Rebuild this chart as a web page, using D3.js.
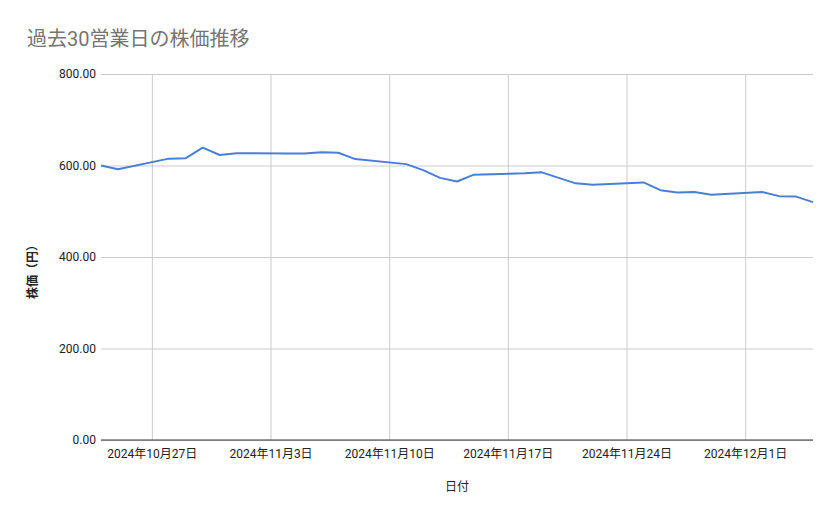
<!DOCTYPE html>
<html><head><meta charset="utf-8">
<script src="https://cdn.jsdelivr.net/npm/d3@7"></script>
<style>
html,body{margin:0;padding:0;background:#fff;}
text{font-family:Roboto,"Noto Sans CJK JP",sans-serif;}
</style></head>
<body><svg id="c" width="839" height="519"></svg>
<script>
const dates = ["2024-10-24","2024-10-25","2024-10-28","2024-10-29","2024-10-30","2024-10-31","2024-11-01",
"2024-11-04","2024-11-05","2024-11-06","2024-11-07","2024-11-08",
"2024-11-11","2024-11-12","2024-11-13","2024-11-14","2024-11-15",
"2024-11-18","2024-11-19","2024-11-20","2024-11-21","2024-11-22",
"2024-11-25","2024-11-26","2024-11-27","2024-11-28","2024-11-29",
"2024-12-02","2024-12-03","2024-12-04","2024-12-05"];
const prices = [600,592,615,616,639,623,627,
626,626,629,628,614,
603,590,573,565,580,
583,585,573,561,558,
563,546,541,542,536,
542,533,532,520];
const yTicks = [0,200,400,600,800];
const xTicks = ["2024-10-27","2024-11-03","2024-11-10","2024-11-17","2024-11-24","2024-12-01"];
const xDomain = ["2024-10-24","2024-12-05"];
const title = "過去30営業日の株価推移";
const xTitle = "日付";
const yTitle = "株価（円）";

const svg = d3.select("#c");
const L=101, R=813, T=74, B=440;
const p = d3.utcParse("%Y-%m-%d");
const x = d3.scaleUtc().domain(xDomain.map(p)).range([L,R]);
const y = d3.scaleLinear().domain([0,800]).range([B,T]);

svg.append("text").attr("x",27).attr("y",46).attr("fill","#757575")
  .style("font-size","20px").text(title);

// horizontal grid
const yAxis = d3.axisLeft(y).tickValues(yTicks).tickSize(-(R-L)).tickPadding(5)
  .tickFormat(d=>d3.format(".2f")(d));
const gy = svg.append("g").attr("transform",`translate(${L},0)`).call(yAxis);
gy.select(".domain").remove();
gy.selectAll(".tick line").attr("stroke","#cccccc");
gy.selectAll(".tick text").attr("fill","#222").style("font-size","12px");

// vertical grid
const xAxis = d3.axisBottom(x).tickValues(xTicks.map(p)).tickSize(-(B-T)).tickPadding(9)
  .tickFormat(d=>`${d.getUTCFullYear()}年${d.getUTCMonth()+1}月${d.getUTCDate()}日`);
const gx = svg.append("g").attr("transform",`translate(0,${B})`).call(xAxis);
gx.select(".domain").remove();
gx.selectAll(".tick line").attr("stroke","#cccccc");
gx.selectAll(".tick text").attr("fill","#222").style("font-size","12px");

// baseline
svg.append("line").attr("x1",L).attr("x2",R).attr("y1",y(0)).attr("y2",y(0))
  .attr("stroke","#333").attr("stroke-width",1);

const line = d3.line().x((d,i)=>x(p(dates[i]))).y(d=>y(d));
svg.append("path").datum(prices).attr("d",line).attr("fill","none")
  .attr("stroke","#4a7fd6").attr("stroke-width",2).attr("stroke-linejoin","round");

svg.append("text").attr("x",(L+R)/2).attr("y",491).attr("text-anchor","middle")
  .attr("fill","#222").style("font-size","12px").text(xTitle);
svg.append("text").attr("transform",`translate(37,${(T+B)/2+12}) rotate(-90)`)
  .attr("text-anchor","middle").attr("fill","#222").style("font-size","12px")
  .style("font-weight","bold").text(yTitle);
</script></body></html>
